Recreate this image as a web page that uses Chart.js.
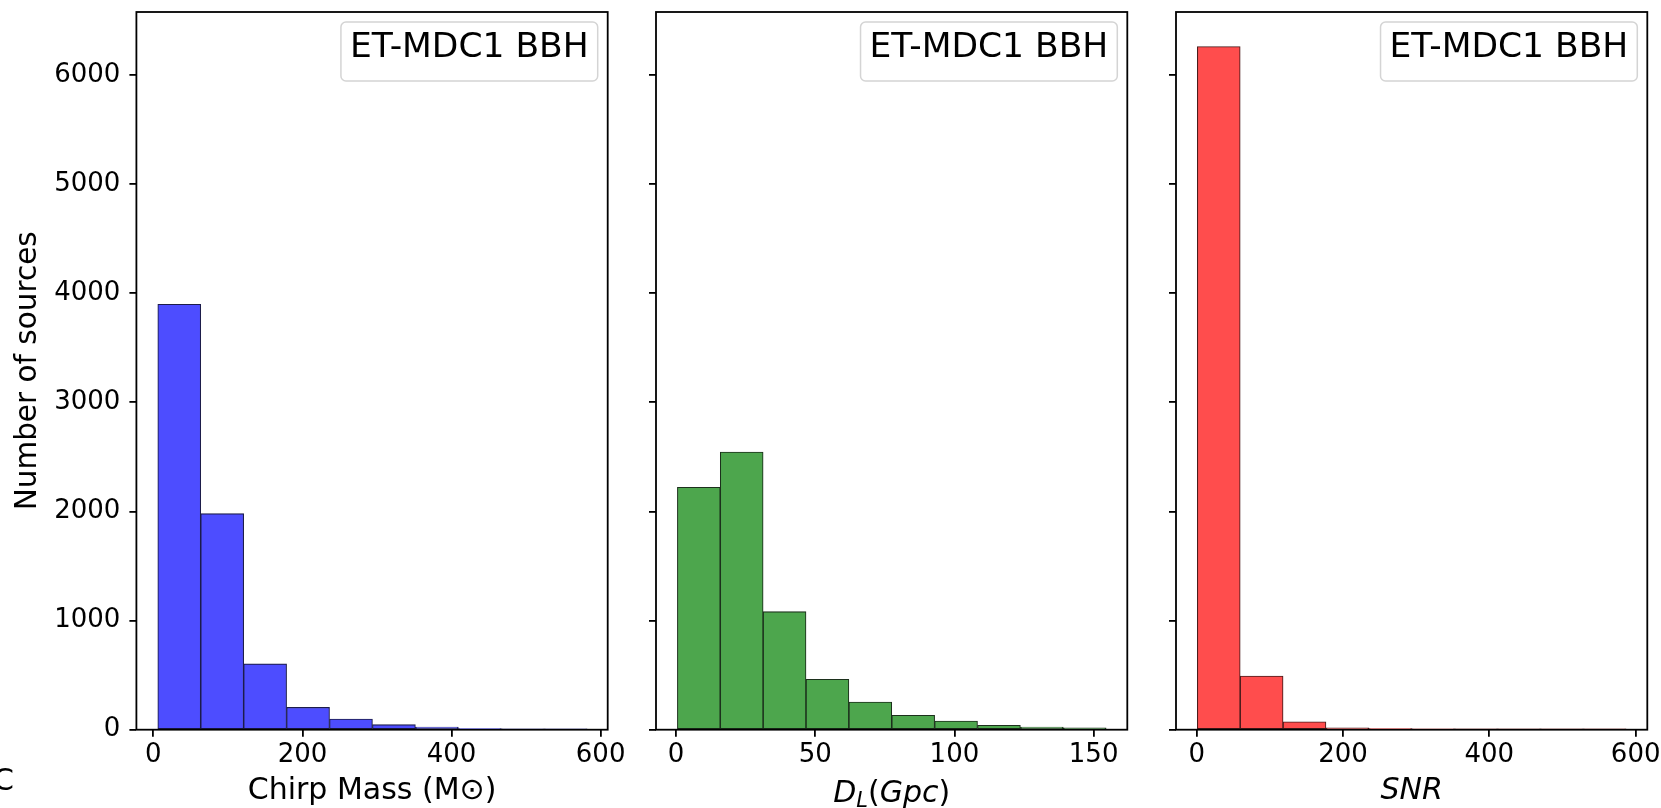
<!DOCTYPE html>
<html><head><meta charset="utf-8">
<script src="https://cdn.jsdelivr.net/npm/chart.js@4.4.1/dist/chart.umd.min.js"></script>
<style>
html,body{margin:0;padding:0;background:#fff;width:1661px;height:808px;overflow:hidden;}
.p{position:absolute;top:0;height:808px;}
canvas{display:block;}
</style></head><body>
<div class="p" style="left:0;width:640px"><canvas id="c1" width="640" height="808"></canvas></div>
<div class="p" style="left:600px;width:560px"><canvas id="c2" width="560" height="808"></canvas></div>
<div class="p" style="left:1120px;width:541px"><canvas id="c3" width="541" height="808"></canvas></div>
<script>
// ---- data ----
const chirpMassEdges = [5.9, 63.5, 121.1, 178.7, 236.3, 293.9, 351.5, 409.1, 466.7, 524.3, 581.9];
const chirpMassCounts = [3899, 1980, 603, 204, 98, 46, 25, 10, 5, 3];
const distanceEdges = [0.5, 15.9, 31.3, 46.7, 62.1, 77.5, 92.9, 108.3, 123.7, 139.1, 154.5];
const distanceCounts = [2222, 2545, 1082, 462, 254, 132, 80, 40, 25, 18];
const snrEdges = [0.9, 59.5, 118.1, 176.7, 235.3, 293.9, 352.5, 411.1, 469.7, 528.3, 586.9];
const snrCounts = [6260, 492, 73, 18, 10, 6, 4, 1, 1, 4];
const yTicks = [0, 1000, 2000, 3000, 4000, 5000, 6000];
const massTicks = [0, 200, 400, 600];
const distanceTicks = [0, 50, 100, 150];
const snrTicks = [0, 200, 400, 600];
const legendLabel = 'ET-MDC1 BBH';
const yLabel = 'Number of sources';
const massLabel = 'Chirp Mass (M\u2299)';
const snrLabel = 'SNR';

const FONT = "'DejaVu Sans', sans-serif";
Chart.defaults.font.family = FONT;
Chart.defaults.color = '#000';

function framePlugin(extra) {
  return {
    id: 'frameLegend',
    afterDraw(chart) {
      const ctx = chart.ctx, ca = chart.chartArea;
      ctx.save();
      // axes frame
      ctx.strokeStyle = '#000';
      ctx.lineWidth = 1.8;
      ctx.strokeRect(ca.left, ca.top, ca.right - ca.left, ca.bottom - ca.top);
      // legend box
      ctx.font = '34.5px ' + FONT;
      const tw = ctx.measureText(legendLabel).width;
      const w = tw + 18, h = 59;
      const right = ca.right - 10, left = right - w, top = ca.top + 10;
      ctx.beginPath();
      ctx.roundRect(left, top, w, h, 5);
      ctx.fillStyle = 'rgba(255,255,255,0.8)';
      ctx.fill();
      ctx.strokeStyle = '#d4d4d4';
      ctx.lineWidth = 1.5;
      ctx.stroke();
      ctx.fillStyle = '#000';
      ctx.textBaseline = 'alphabetic';
      ctx.textAlign = 'left';
      ctx.fillText(legendLabel, left + 9, top + 34.7);
      if (extra) extra(chart, ctx, ca);
      ctx.restore();
    }
  };
}

function makeChart(id, edges, counts, color, edgeColor, xmin, xmax, xticks, yWidth, padRight, showY, xTitle, extra) {
  const data = counts.map((c, i) => ({x: (edges[i] + edges[i + 1]) / 2, y: c}));
  const grid = {display: true, drawOnChartArea: false, drawTicks: true, tickLength: 7, color: '#000', lineWidth: 1.8, offset: false};
  return new Chart(document.getElementById(id), {
    type: 'bar',
    data: {datasets: [{
      data: data,
      backgroundColor: color,
      borderColor: edgeColor,
      borderWidth: 1.1,
      borderSkipped: false,
      barPercentage: 1,
      categoryPercentage: 1,
      grouped: false
    }]},
    options: {
      responsive: false,
      animation: false,
      devicePixelRatio: 1,
      events: [],
      layout: {padding: {left: 0, top: 12, right: padRight, bottom: 0}},
      plugins: {legend: {display: false}, tooltip: {enabled: false}},
      scales: {
        x: {
          type: 'linear', min: xmin, max: xmax, offset: false,
          afterBuildTicks: s => { s.ticks = xticks.map(v => ({value: v})); },
          afterFit: s => { s.height = 78.3; s.paddingLeft = 0; s.paddingRight = 0; },
          grid: grid,
          border: {display: false},
          ticks: {color: '#000', font: {size: 26}, padding: 3, maxRotation: 0, autoSkip: false, callback: v => String(v)},
          title: xTitle
        },
        y: {
          type: 'linear', min: 0, max: 6577,
          afterBuildTicks: s => { s.ticks = yTicks.map(v => ({value: v})); },
          afterFit: s => { s.width = yWidth; s.paddingTop = 0; s.paddingBottom = 0; },
          grid: grid,
          border: {display: false},
          ticks: {display: showY, color: '#000', font: {size: 26}, padding: 9, callback: v => String(v)},
          title: {display: showY, text: yLabel, color: '#000', font: {size: 29.5, lineHeight: 1}, padding: {top: 14, bottom: 0}}
        }
      }
    },
    plugins: [framePlugin(extra)]
  });
}

const xTitleBase = {display: true, color: '#000', padding: {top: 0, bottom: 2}};

makeChart('c1', chirpMassEdges, chirpMassCounts, '#4d4dff', '#1c1c4a', -22.8, 609.5, massTicks, 136.4, 32.3, true,
  Object.assign({}, xTitleBase, {text: massLabel, font: {size: 30, lineHeight: 1}}),
  (chart, ctx) => {
    ctx.font = '30px ' + FONT;
    ctx.fillStyle = '#000';
    ctx.textBaseline = 'alphabetic';
    ctx.fillText('C', -7, 789.5);
  });

makeChart('c2', distanceEdges, distanceCounts, '#4da64d', '#1c301c', -7.18, 162.1, distanceTicks, 56, 32.7, false,
  {display: false},
  (chart, ctx, ca) => {
    const base = 801.5;
    const parts = [
      {t: 'D', f: 'italic 30px ' + FONT, dy: 0},
      {t: 'L', f: 'italic 21px ' + FONT, dy: 5},
      {t: '(', f: '30px ' + FONT, dy: 0},
      {t: 'Gpc', f: 'italic 30px ' + FONT, dy: 0},
      {t: ')', f: '30px ' + FONT, dy: 0}
    ];
    let total = 0;
    parts.forEach(p => { ctx.font = p.f; p.w = ctx.measureText(p.t).width; total += p.w; });
    let x = (ca.left + ca.right) / 2 - total / 2;
    ctx.fillStyle = '#000';
    ctx.textBaseline = 'alphabetic';
    ctx.textAlign = 'left';
    parts.forEach(p => { ctx.font = p.f; ctx.fillText(p.t, x, base + p.dy); x += p.w; });
  });

makeChart('c3', snrEdges, snrCounts, '#ff4d4d', '#4a1c1c', -28.25, 615.9, snrTicks, 56, 13.7, false,
  Object.assign({}, xTitleBase, {text: snrLabel, font: {size: 30, style: 'italic', lineHeight: 1}}),
  null);
</script>
</body></html>
